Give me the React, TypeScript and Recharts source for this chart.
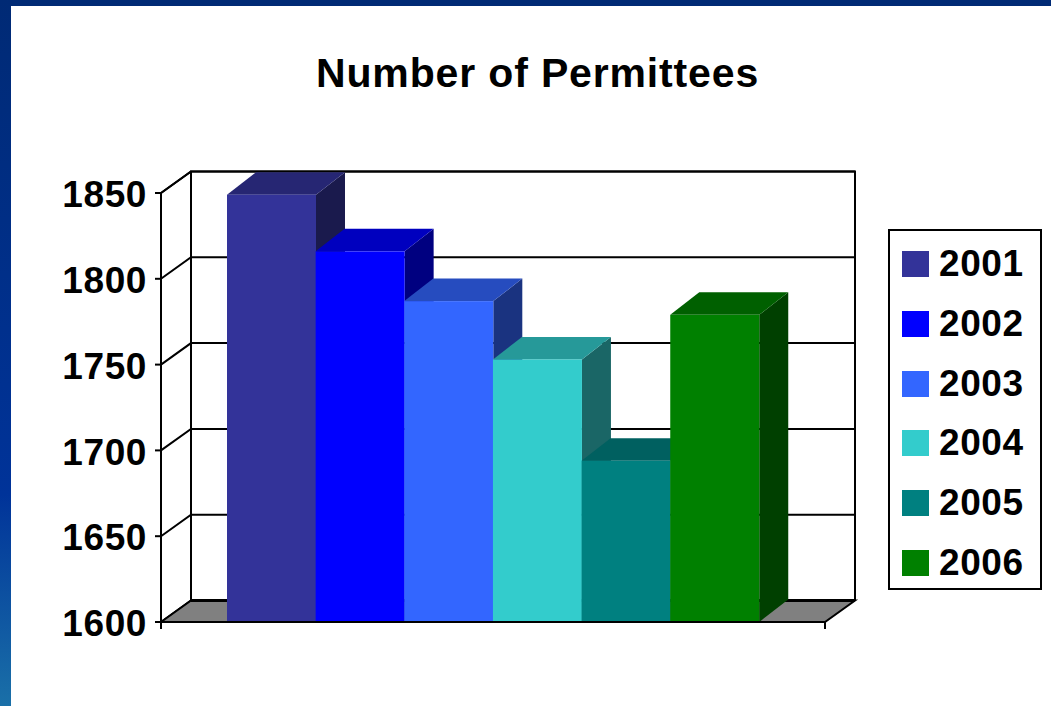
import { Bar, BarChart, CartesianGrid, Legend, XAxis, YAxis, usePlotArea } from 'recharts';

const years = ['2001', '2002', '2003', '2004', '2005', '2006'];
const permittees = [1849, 1816, 1787, 1753, 1694, 1779];
const yTicks = [1600, 1650, 1700, 1750, 1800, 1850];

const frontColors = ['#333399', '#0000ff', '#3366ff', '#33cccc', '#008080', '#008000'];
const topColors = ['#262673', '#0000bf', '#264cbf', '#269999', '#006060', '#006000'];
const sideColors = ['#1a1a4d', '#000080', '#1a3380', '#1a6666', '#004040', '#004000'];

const chartData = [Object.fromEntries([['name', 'Permittees'], ...years.map((year, i) => [year, permittees[i]])])];

const DEPTH_X = 30;
const DEPTH_Y = 21.5;
const FONT = '"Liberation Sans", Arial, sans-serif';

// floor, back wall and the little end ticks under the x axis
const Frame3D = () => {
    const plot = usePlotArea();
    if (!plot) return null;
    const left = plot.x;
    const right = plot.x + plot.width;
    const top = plot.y;
    const bottom = plot.y + plot.height;
    return (
        <g>
            <polygon
                points={`${left},${bottom} ${left + DEPTH_X},${bottom - DEPTH_Y} ${right + DEPTH_X},${bottom - DEPTH_Y} ${right},${bottom}`}
                fill="#808080"
                stroke="#000"
                strokeWidth={2}
            />
            <line x1={left + DEPTH_X} y1={bottom - DEPTH_Y} x2={right + DEPTH_X} y2={bottom - DEPTH_Y} stroke="#000" strokeWidth={3} />
            <polyline
                points={`${left + DEPTH_X},${bottom - DEPTH_Y} ${left + DEPTH_X},${top - DEPTH_Y} ${right + DEPTH_X},${top - DEPTH_Y} ${right + DEPTH_X},${bottom - DEPTH_Y}`}
                fill="none"
                stroke="#000"
                strokeWidth={2}
            />
            <line x1={left} y1={top} x2={left + DEPTH_X} y2={top - DEPTH_Y} stroke="#000" strokeWidth={2} />
            <line x1={left} y1={bottom} x2={left} y2={bottom + 7} stroke="#000" strokeWidth={2} />
            <line x1={right} y1={bottom} x2={right} y2={bottom + 7} stroke="#000" strokeWidth={2} />
        </g>
    );
};

// each grid line runs along the back wall and folds down the left side
const GridLine3D = (props: any) => {
    const { x1, x2, y1 } = props;
    return (
        <polyline
            points={`${x1},${y1} ${x1 + DEPTH_X},${y1 - DEPTH_Y} ${x2 + DEPTH_X},${y1 - DEPTH_Y}`}
            fill="none"
            stroke="#000"
            strokeWidth={2}
        />
    );
};

const Box3D = ({ x, y, width, height, fill, top, side }: any) => {
    const depthX = DEPTH_X - 1;
    const depthY = DEPTH_Y + 1;
    return (
        <g>
            <polygon points={`${x + width},${y} ${x + width + depthX},${y - depthY} ${x + width + depthX},${y + height - depthY} ${x + width},${y + height}`} fill={side} />
            <polygon points={`${x},${y} ${x + depthX},${y - depthY} ${x + width + depthX},${y - depthY} ${x + width},${y}`} fill={top} />
            <rect x={x} y={y} width={width} height={height} fill={fill} />
        </g>
    );
};

const LegendBox = () => (
    <div style={{ boxSizing: 'border-box', width: 154, height: 361, border: '2px solid #000', background: '#fff', position: 'relative' }}>
        {years.map((year, i) => (
            <div key={year} style={{ position: 'absolute', left: 12, top: 13 + i * 59.8, height: 40, display: 'flex', alignItems: 'center' }}>
                <span style={{ width: 27, height: 26, background: frontColors[i], marginRight: 10 }} />
                <span style={{ fontFamily: FONT, fontWeight: 700, fontSize: 37, letterSpacing: 0.6, color: '#000' }}>{year}</span>
            </div>
        ))}
    </div>
);

export default function App() {
    return (
        <div style={{ position: 'absolute', left: 0, top: 0, width: 1051, height: 706, background: '#fff', overflow: 'hidden' }}>
            <div style={{ position: 'absolute', left: 0, top: 0, width: 1051, height: 6, background: '#002a75' }} />
            <div style={{ position: 'absolute', left: 0, top: 0, width: 11, height: 706, background: 'linear-gradient(#002a75 0%, #003399 70%, #1a70a8 100%)' }} />
            <div style={{ position: 'absolute', left: 316, top: 48, fontFamily: FONT, fontWeight: 700, fontSize: 41, letterSpacing: 0.85, lineHeight: '50px', color: '#000', whiteSpace: 'nowrap' }}>
                Number of Permittees
            </div>
            <BarChart
                width={1051}
                height={706}
                data={chartData}
                margin={{ top: 193, right: 72, bottom: 83, left: 0 }}
                barCategoryGap={66}
                barGap={-0.35}
                barSize={89}
                style={{ position: 'absolute', left: 0, top: 0 }}
            >
                <Frame3D />
                <CartesianGrid vertical={false} horizontal={(props: any) => <GridLine3D key={props.index} {...props} />} />
                <XAxis dataKey="name" tick={false} tickLine={false} height={1} axisLine={{ stroke: '#000', strokeWidth: 2 }} />
                <YAxis
                    width={161}
                    domain={[1600, 1850]}
                    ticks={yTicks}
                    interval={0}
                    tickSize={6}
                    tickMargin={8}
                    axisLine={{ stroke: '#000', strokeWidth: 2 }}
                    tickLine={{ stroke: '#000', strokeWidth: 2 }}
                    tick={{ fill: '#000', fontFamily: FONT, fontWeight: 700, fontSize: 37, letterSpacing: 0.6, dy: 1 }}
                />
                {years.map((year, i) => (
                    <Bar
                        key={year}
                        dataKey={year}
                        fill={frontColors[i]}
                        isAnimationActive={false}
                        shape={(props: any) => <Box3D {...props} top={topColors[i]} side={sideColors[i]} />}
                    />
                ))}
                <Legend layout="vertical" align="right" verticalAlign="top" content={<LegendBox />} wrapperStyle={{ left: 888, top: 229, right: 'auto', bottom: 'auto', width: 154 }} />
            </BarChart>
        </div>
    );
}
